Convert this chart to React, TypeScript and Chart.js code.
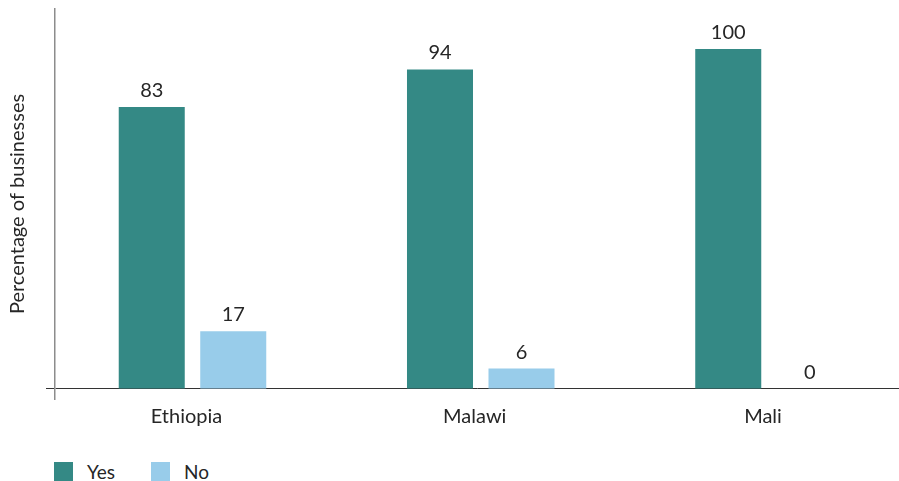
import React, { useEffect, useRef } from 'react';
import { Chart, registerables } from 'chart.js';

Chart.register(...registerables);

const categories = ['Ethiopia', 'Malawi', 'Mali'];
const yesValues = [83, 94, 100];
const noValues = [17, 6, 0];
const seriesNames = ['Yes', 'No'];
const seriesColors = ['#348985', '#98CCEA'];
const yAxisTitle = 'Percentage of businesses';

const FONT = 'Lato, "Source Sans Pro", sans-serif';
const TEXT = '#262626';

const valueLabels = {
  id: 'valueLabels',
  afterDatasetsDraw(chart: any) {
    const ctx = chart.ctx;
    ctx.save();
    ctx.font = `20px ${FONT}`;
    ctx.fillStyle = TEXT;
    ctx.textAlign = 'center';
    ctx.textBaseline = 'alphabetic';
    chart.data.datasets.forEach((ds: any, i: number) => {
      const meta = chart.getDatasetMeta(i);
      meta.data.forEach((el: any, j: number) => {
        const v = ds.data[j].y;
        ctx.fillText(String(v), el.x, el.y - 10);
      });
    });
    ctx.restore();
  },
};

export default function App() {
  const ref = useRef<HTMLCanvasElement>(null);

  useEffect(() => {
    document.body.style.margin = '0';
    const seriesValues = [yesValues, noValues];
    const chart = new Chart(ref.current as HTMLCanvasElement, {
      type: 'bar',
      data: {
        datasets: seriesNames.map((name, s) => ({
          label: name,
          data: categories.map((_, i) => ({ x: i, y: seriesValues[s][i] })),
          backgroundColor: seriesColors[s],
          borderWidth: 0,
          categoryPercentage: 0.5655,
          barPercentage: 0.81,
        })),
      },
      options: {
        animation: false,
        responsive: true,
        maintainAspectRatio: false,
        layout: { padding: { top: 9, right: 0, bottom: 7, left: 0 } },
        plugins: {
          legend: { display: false },
          tooltip: { enabled: false },
        },
        scales: {
          x: {
            type: 'linear',
            offset: false,
            bounds: 'data',
            min: -0.477,
            max: 2.451,
            afterBuildTicks: (s: any) => {
              s.ticks = categories.map((_, i) => ({ value: i }));
            },
            ticks: {
              callback: (v: any) => categories[v] ?? '',
              font: { family: FONT, size: 20 },
              color: TEXT,
              padding: 6,
              labelOffset: -6,
              autoSkip: false,
              maxRotation: 0,
            },
            grid: { display: false, drawTicks: false, offset: false },
            border: { display: false },
          },
          y: {
            min: -2.95,
            max: 111.8,
            afterBuildTicks: (s: any) => {
              s.ticks = [{ value: 0 }];
            },
            ticks: { display: false },
            grid: {
              color: '#333333',
              lineWidth: 1,
              drawTicks: true,
              tickLength: 9,
              tickColor: '#333333',
            },
            border: { display: true, color: '#8c8c8c', width: 1.5 },
            title: {
              display: true,
              text: yAxisTitle,
              font: { family: FONT, size: 20 },
              color: TEXT,
              padding: { top: 6, bottom: 16 },
            },
          },
        },
      } as any,
      plugins: [valueLabels],
    });
    return () => chart.destroy();
  }, []);

  return (
    <div style={{ position: 'relative', width: 899, height: 481, overflow: 'hidden' }}>
      <div style={{ position: 'absolute', left: 0, top: 0, width: 899, height: 442 }}>
        <canvas ref={ref} />
      </div>
      <div
        style={{
          position: 'absolute',
          left: 54,
          top: 462,
          display: 'flex',
          fontFamily: FONT,
          fontSize: 19,
          color: TEXT,
        }}
      >
        {seriesNames.map((name, s) => (
          <div
            key={name}
            style={{ display: 'flex', alignItems: 'center', width: s === 0 ? 97 : 'auto', height: 19 }}
          >
            <span style={{ display: 'inline-block', width: 19, height: 19, background: seriesColors[s] }} />
            <span style={{ marginLeft: 14, lineHeight: '19px' }}>{name}</span>
          </div>
        ))}
      </div>
    </div>
  );
}
